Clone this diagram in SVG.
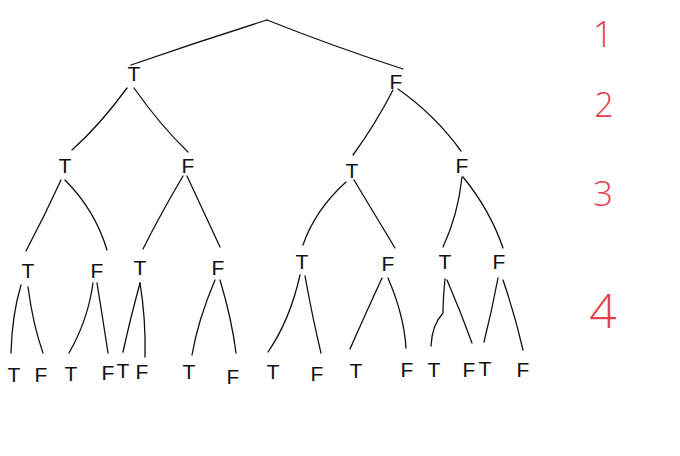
<svg xmlns="http://www.w3.org/2000/svg" width="680" height="456" viewBox="0 0 680 456">
<style>
.e{fill:none;stroke:#111;stroke-width:1.3;stroke-linecap:round}
.n{font-family:"Liberation Sans",Arial,sans-serif;font-size:21px;fill:#111;text-anchor:middle}
.lv{font-family:"Open Sans","Liberation Sans",Arial,sans-serif;font-weight:300;fill:#e5404b;text-anchor:middle}
</style>
<rect width="680" height="456" fill="#ffffff"/>
<g id="connectors">
<path class="e" d="M267,20 Q200,41 131,65"/>
<path class="e" d="M267,20 Q335,47 403,69"/>
<path class="e" d="M127,88 Q100,125 72,150"/>
<path class="e" d="M134,88 Q160,125 188,152"/>
<path class="e" d="M393,90 Q375,125 353,155"/>
<path class="e" d="M398,89 Q435,115 461,151"/>
<path class="e" d="M61,180 Q45,215 26,251"/>
<path class="e" d="M65,180 Q95,210 107,250"/>
<path class="e" d="M183,176 Q160,215 143,249"/>
<path class="e" d="M187,176 Q205,215 220,247"/>
<path class="e" d="M346,182 Q315,210 303,245"/>
<path class="e" d="M354,180 Q375,215 395,248"/>
<path class="e" d="M462,177 Q458,215 443,247"/>
<path class="e" d="M463,177 Q490,210 503,248"/>
<path class="e" d="M21,285 Q12,315 11,353"/>
<path class="e" d="M28,287 Q33,325 43,353"/>
<path class="e" d="M93,283 Q88,320 69,353"/>
<path class="e" d="M97,283 Q103,320 108,353"/>
<path class="e" d="M140,283 Q130,320 123,352"/>
<path class="e" d="M140,283 Q146,320 145,357"/>
<path class="e" d="M215,280 Q198,320 192,355"/>
<path class="e" d="M220,280 Q232,320 236,353"/>
<path class="e" d="M300,275 Q290,320 268,352"/>
<path class="e" d="M305,276 Q313,320 321,353"/>
<path class="e" d="M382,278 Q365,315 350,349"/>
<path class="e" d="M388,278 Q404,315 406,348"/>
<path class="e" d="M445,279 Q443,300 443,313 Q432,325 431,346"/>
<path class="e" d="M447,280 Q460,310 472,343"/>
<path class="e" d="M498,278 Q492,310 484,342"/>
<path class="e" d="M503,280 Q515,315 523,350"/>
</g>
<g id="n1T"><text class="n" x="134" y="81">T</text></g>
<g id="n1F"><text class="n" x="396" y="89">F</text></g>
<g id="n2TT"><text class="n" x="65" y="173">T</text></g>
<g id="n2TF"><text class="n" x="188" y="173">F</text></g>
<g id="n2FT"><text class="n" x="352" y="178">T</text></g>
<g id="n2FF"><text class="n" x="462" y="173">F</text></g>
<g id="n3a"><text class="n" x="28" y="278">T</text></g>
<g id="n3b"><text class="n" x="97" y="278">F</text></g>
<g id="n3c"><text class="n" x="140" y="275">T</text></g>
<g id="n3d"><text class="n" x="218" y="275">F</text></g>
<g id="n3e"><text class="n" x="302" y="269">T</text></g>
<g id="n3f"><text class="n" x="388" y="271">F</text></g>
<g id="n3g"><text class="n" x="445" y="269">T</text></g>
<g id="n3h"><text class="n" x="499" y="269">F</text></g>
<g id="n4a"><text class="n" x="14" y="382">T</text></g>
<g id="n4b"><text class="n" x="41" y="382">F</text></g>
<g id="n4c"><text class="n" x="71" y="381">T</text></g>
<g id="n4d"><text class="n" x="108" y="380">F</text></g>
<g id="n4e"><text class="n" x="123" y="378">T</text></g>
<g id="n4f"><text class="n" x="142" y="379">F</text></g>
<g id="n4g"><text class="n" x="189" y="379">T</text></g>
<g id="n4h"><text class="n" x="233" y="384">F</text></g>
<g id="n4i"><text class="n" x="273" y="379">T</text></g>
<g id="n4j"><text class="n" x="317" y="381">F</text></g>
<g id="n4k"><text class="n" x="356" y="378">T</text></g>
<g id="n4l"><text class="n" x="407" y="377">F</text></g>
<g id="n4m"><text class="n" x="434" y="377">T</text></g>
<g id="n4n"><text class="n" x="469" y="377">F</text></g>
<g id="n4o"><text class="n" x="485" y="376">T</text></g>
<g id="n4p"><text class="n" x="523" y="377">F</text></g>
<g id="levels">
<text class="lv" x="603" y="47" font-size="36">1</text>
<text class="lv" x="604" y="117" font-size="34">2</text>
<text class="lv" x="603" y="206" font-size="35">3</text>
<text class="lv" x="603" y="328" font-size="48">4</text>
</g>
</svg>
